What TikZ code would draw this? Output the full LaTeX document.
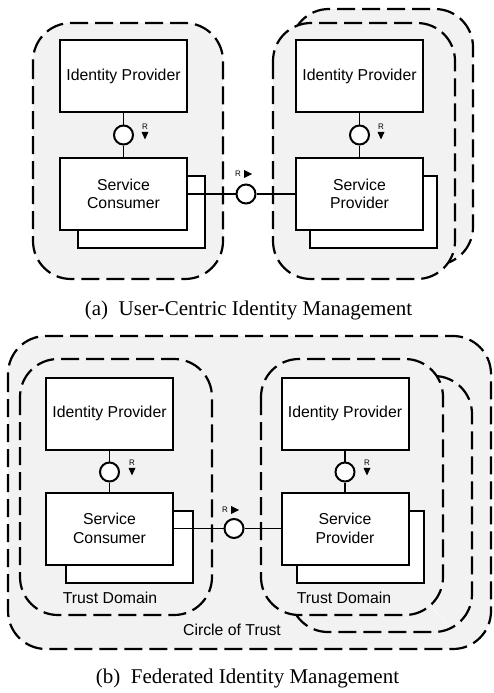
\documentclass[tikz,border=0pt]{standalone}
\usepackage{fontspec}
\setmainfont{Liberation Serif}
\newfontfamily\labelfont{Liberation Sans}
\usetikzlibrary{calc}
\definecolor{bggray}{HTML}{F2F2F2}
\begin{document}
\begin{tikzpicture}[x=1pt,y=-1pt,
 tdbox/.style={draw, line width=2.2pt, dash pattern=on 18pt off 7pt, fill=bggray, rounded corners=38pt},
 comp/.style={draw, line width=2pt, fill=white, minimum width=127pt, minimum height=72pt, inner sep=0pt, font=\labelfont\fontsize{15.8}{18.5}\selectfont, align=center},
 shadowbox/.style={draw, line width=2pt, fill=white, minimum width=127pt, minimum height=72pt, inner sep=0pt},
 iface/.style={circle, draw, line width=2pt, fill=white, minimum size=19pt, inner sep=0pt},
 conn/.style={line width=1.2pt},
 rlabel/.style={font=\labelfont\fontsize{8}{9}\selectfont, inner sep=0pt},
 tdlabel/.style={font=\labelfont\fontsize{15.8}{18}\selectfont, inner sep=0pt},
 caption/.style={font=\fontsize{21}{24}\selectfont, inner sep=0pt}]
\useasboundingbox (0,0) rectangle (493,693);

% ---------- (a) User-Centric ----------
\draw[tdbox] (33,23) rectangle (223,279);
\draw[tdbox] (291,9) rectangle (473,265);
\draw[tdbox] (273,23) rectangle (455,279);

\node[shadowbox] (scAsh) at (141,212) {};
\node[shadowbox] (spAsh) at (373.5,212) {};
\node[comp] (idpA) at (123.5,76) {Identity Provider};
\node[comp] (scA) at (123.5,194) {Service\\Consumer};
\node[comp] (idpA2) at (359.5,76) {Identity Provider};
\node[comp] (spA) at (359.5,194) {Service\\Provider};

\node[iface] (cA) at (123.5,135) {};
\node[iface] (cA2) at (359.5,135) {};
\node[iface] (cAm) at (246,194) {};
\draw[conn] (idpA) -- (cA) -- (scA);
\draw[conn] (idpA2) -- (cA2) -- (spA);
\draw[conn] (scA.east) -- (cAm) -- (spA.west);

\node[rlabel] (rA1) at (145,127) {R};
\fill ($(rA1.south)+(-3.5,2)$) -- ++(7,0) -- ++(-3.5,7.5) -- cycle;
\node[rlabel] (rA2) at (381,127) {R};
\fill ($(rA2.south)+(-3.5,2)$) -- ++(7,0) -- ++(-3.5,7.5) -- cycle;
\node[rlabel] (rAm) at (238,174) {R};
\fill ($(rAm.east)+(3,-4)$) -- ++(0,8) -- ++(8,-4) -- cycle;

\node[caption] (capA) at (248.5,310) {(a)\ \ User-Centric Identity Management};

% ---------- (b) Federated ----------
\draw[tdbox] (8,336) rectangle (491,649);
\draw[tdbox] (20,359) rectangle (212,615);
\draw[tdbox] (290,376) rectangle (472,632);
\draw[tdbox] (261,359) rectangle (443,615);
\draw[white, line width=1.6pt, line cap=round, dash pattern=on 0pt off 3.5pt] (435,611) -- (446,622);

\node[shadowbox] (scBsh) at (129.5,546.5) {};
\node[shadowbox] (spBsh) at (360.5,546.5) {};
\node[comp] (idpB) at (109.5,413.5) {Identity Provider};
\node[comp] (scB) at (109.5,528.5) {Service\\Consumer};
\node[comp] (idpB2) at (345,413.5) {Identity Provider};
\node[comp] (spB) at (345,528.5) {Service\\Provider};

\node[iface] (cB) at (109.5,472) {};
\node[iface] (cB2) at (345,472) {};
\node[iface] (cBm) at (234,528.5) {};
\draw[conn] (idpB) -- (cB) -- (scB);
\draw[conn] (idpB2) -- (cB2) -- (spB);
\draw[conn] (scB.east) -- (cBm) -- (spB.west);

\node[rlabel] (rB1) at (132,463) {R};
\fill ($(rB1.south)+(-3.5,2)$) -- ++(7,0) -- ++(-3.5,7.5) -- cycle;
\node[rlabel] (rB2) at (367,463) {R};
\fill ($(rB2.south)+(-3.5,2)$) -- ++(7,0) -- ++(-3.5,7.5) -- cycle;
\node[rlabel] (rBm) at (225,510) {R};
\fill ($(rBm.east)+(3,-4)$) -- ++(0,8) -- ++(8,-4) -- cycle;

\node[tdlabel] (tdB1) at (110,598) {Trust Domain};
\node[tdlabel] (tdB2) at (344,598) {Trust Domain};
\node[tdlabel] (cot) at (232,630) {Circle of Trust};

\node[caption] (capB) at (247.5,678) {(b)\ \ Federated Identity Management};
\end{tikzpicture}
\end{document}
